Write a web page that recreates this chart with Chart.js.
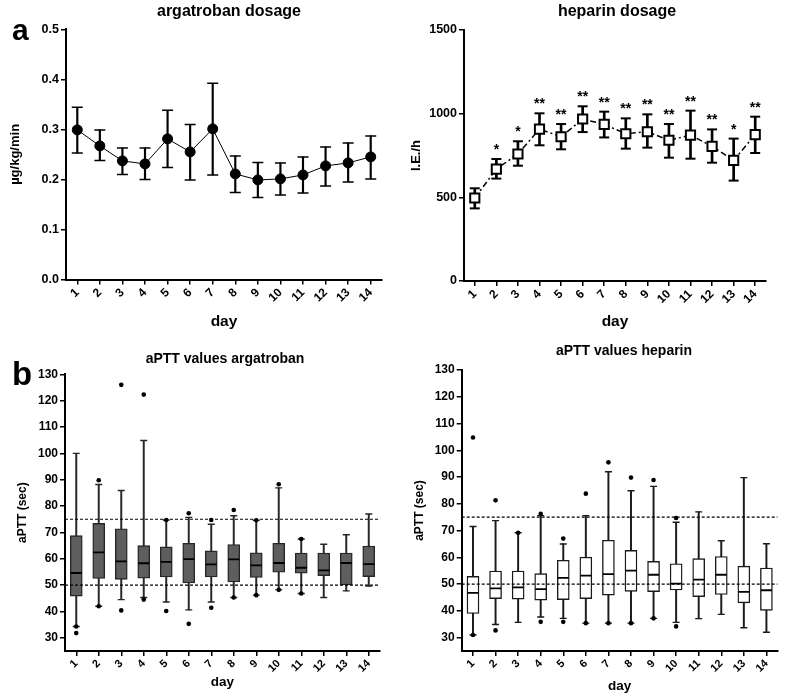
<!DOCTYPE html>
<html>
<head>
<meta charset="utf-8">
<title>argatroban / heparin</title>
<script src="https://cdn.jsdelivr.net/npm/chart.js@4.4.1/dist/chart.umd.min.js"></script>
<style>
  body { margin: 0; background: #fff; }
  #wrap { position: relative; width: 785px; height: 694px; overflow: hidden;
          font-family: 'Liberation Sans', Arial, sans-serif; color: #000; }
  canvas { position: absolute; }
  .title { position: absolute; width: 320px; text-align: center; font-weight: bold; white-space: nowrap; }
  .letter { position: absolute; font-weight: bold; line-height: 1; }
</style>
</head>
<body>
<div id="wrap">
  <canvas id="argDose" width="390" height="335" style="left:0;top:0"></canvas>
  <canvas id="hepDose" width="395" height="335" style="left:390px;top:0"></canvas>
  <canvas id="argAptt" width="390" height="356" style="left:0;top:338px"></canvas>
  <canvas id="hepAptt" width="395" height="356" style="left:390px;top:338px"></canvas>
  <div class="title" style="left:69px;top:3px;font-size:16px;line-height:16px">argatroban dosage</div>
  <div class="title" style="left:457px;top:3px;font-size:16px;line-height:16px">heparin dosage</div>
  <div class="title" style="left:65px;top:351px;font-size:14px;line-height:14px">aPTT values argatroban</div>
  <div class="title" style="left:464px;top:343px;font-size:14px;line-height:14px">aPTT values heparin</div>
  <div class="letter" style="left:12px;top:15px;font-size:30px">a</div>
  <div class="letter" style="left:12px;top:357px;font-size:33px">b</div>
</div>
<script>
// days on the x axis
const days = [1, 2, 3, 4, 5, 6, 7, 8, 9, 10, 11, 12, 13, 14];

// argatroban dosage (µg/kg/min): mean with error bar ends
const argMean  = [0.299, 0.267, 0.237, 0.231, 0.281, 0.255, 0.301, 0.211, 0.199, 0.201, 0.209, 0.227, 0.233, 0.245];
const argUpper = [0.344, 0.299, 0.263, 0.263, 0.338, 0.310, 0.392, 0.247, 0.234, 0.233, 0.245, 0.265, 0.273, 0.287];
const argLower = [0.253, 0.238, 0.210, 0.200, 0.224, 0.199, 0.209, 0.174, 0.164, 0.169, 0.173, 0.187, 0.195, 0.201];
const argDoseTicks = [0, 0.1, 0.2, 0.3, 0.4, 0.5];

// heparin dosage (I.E./h)
const hepMean  = [496, 669, 759, 908, 862, 968, 936, 880, 892, 841, 872, 805, 721, 875];
const hepUpper = [554, 729, 835, 1002, 938, 1044, 1012, 972, 996, 938, 1018, 906, 851, 982];
const hepLower = [434, 612, 689, 811, 787, 890, 858, 791, 797, 737, 731, 707, 600, 765];
const hepSig   = ['', '*', '*', '**', '**', '**', '**', '**', '**', '**', '**', '**', '*', '**'];
const hepDoseTicks = [0, 500, 1000, 1500];

// aPTT argatroban: whisker low, Q1, median, Q3, whisker high, outliers
const argWLo = [34.3, 42.0, 44.5, 45.3, 43.6, 40.6, 43.6, 45.3, 46.2, 48.2, 46.8, 45.3, 47.8, 49.6];
const argQ1  = [45.8, 52.5, 52.2, 52.6, 53.1, 50.8, 53.1, 51.2, 52.9, 54.9, 54.5, 53.6, 50.1, 53.2];
const argMed = [54.6, 62.4, 59.0, 58.3, 58.8, 59.9, 57.9, 59.8, 57.5, 58.4, 56.6, 55.6, 58.4, 58.0];
const argQ3  = [68.8, 73.4, 71.4, 65.0, 64.5, 65.9, 63.0, 65.4, 62.3, 65.9, 62.2, 62.2, 62.2, 64.8];
const argWHi = [100, 88.2, 85.9, 104.9, 74.7, 75.7, 73.1, 76.3, 74.6, 86.9, 67.5, 65.5, 69.1, 77.0];
const argOut = [[34.3, 31.8], [89.8, 42.0], [126.0, 40.4], [122.3, 44.5], [74.7, 40.2], [77.3, 35.3],
                [74.7, 41.4], [78.5, 45.3], [74.6, 46.2], [88.3, 48.2], [67.5, 46.8], [], [], []];

// aPTT heparin
const hepWLo = [31.0, 34.9, 35.7, 37.7, 37.2, 35.4, 35.4, 35.4, 37.2, 35.7, 37.1, 38.7, 33.7, 32.0];
const hepQ1  = [39.0, 44.6, 44.4, 44.0, 44.2, 44.6, 45.9, 47.3, 47.2, 47.8, 45.3, 46.1, 43.0, 40.2];
const hepMed = [46.7, 48.4, 48.8, 48.1, 52.3, 53.2, 53.7, 55.0, 53.5, 50.2, 51.7, 53.5, 47.1, 47.7];
const hepQ3  = [52.9, 54.9, 54.9, 53.9, 58.9, 60.1, 66.4, 62.6, 58.5, 57.6, 59.5, 60.3, 56.7, 56.0];
const hepWHi = [71.5, 73.7, 69.2, 75.6, 65.0, 75.6, 92.0, 84.9, 86.5, 73.1, 77.0, 66.2, 89.8, 65.1];
const hepOut = [[104.8, 31.0], [81.3, 32.7], [69.2], [76.3, 35.9], [67.0, 35.9], [83.8, 35.4],
                [95.5, 35.4], [89.8, 35.4], [88.9, 37.2], [74.7, 34.2], [], [], [], []];

const apttTicks = [30, 40, 50, 60, 70, 80, 90, 100, 110, 120, 130];
const apttLimits = [50, 75];

const FONT = "'Liberation Sans', Arial, sans-serif";

// shared x axis (days)
function xAxis(height, tickSize, titleSize) {
    return {
        type: 'linear', min: 0.5, max: 14.5, offset: false,
        afterBuildTicks: s => { s.ticks = days.map(d => ({ value: d })); },
        afterFit: s => { s.height = height; },
        ticks: {
            autoSkip: false, minRotation: 45, maxRotation: 45, padding: 1, color: '#000',
            font: { family: FONT, size: tickSize, weight: 'bold' },
            callback: v => String(v)
        },
        grid: { offset: false, drawOnChartArea: false, drawTicks: true, tickLength: 5, color: '#000', lineWidth: 1.5 },
        border: { display: true, color: '#000', width: 2 },
        title: {
            display: true, text: 'day', color: '#000', padding: 0,
            font: { family: FONT, size: titleSize, weight: 'bold' }
        }
    };
}

// shared y axis
function yAxis(width, min, max, tickValues, fmt, label, labelPad, tickSize, labelSize) {
    return {
        type: 'linear', min: min, max: max,
        afterBuildTicks: s => { s.ticks = tickValues.map(v => ({ value: v })); },
        afterFit: s => { s.width = width; },
        ticks: { padding: 2, color: '#000', font: { family: FONT, size: tickSize, weight: 'bold' }, callback: fmt },
        grid: { drawOnChartArea: false, drawTicks: true, tickLength: 5, color: '#000', lineWidth: 1.5 },
        border: { display: true, color: '#000', width: 2 },
        title: {
            display: true, text: label, color: '#000', padding: { top: labelPad, bottom: 0 },
            font: { family: FONT, size: labelSize, weight: 'bold' }
        }
    };
}

function baseOptions(padding, x, y) {
    return {
        responsive: false,
        animation: false,
        events: [],
        devicePixelRatio: 1,
        layout: { padding: padding },
        plugins: { legend: { display: false }, tooltip: { enabled: false } },
        scales: { x: x, y: y }
    };
}

function pts(values) {
    return days.map((d, i) => ({ x: d, y: values[i] }));
}

// error bars: thin floating bar + two caps
function errorBarSets(lower, upper, barWidth, capRadius, order) {
    return [
        {
            type: 'scatter', data: pts(upper).concat(pts(lower)), pointStyle: 'line',
            pointRadius: capRadius, pointBorderColor: '#000', pointBorderWidth: barWidth, order: order
        },
        {
            type: 'bar', data: days.map((d, i) => ({ x: d, y: [lower[i], upper[i]] })),
            backgroundColor: '#000', borderWidth: 0, barThickness: barWidth, grouped: false, order: order + 1
        }
    ];
}

// box plot built from bars and scatter points
function boxSets(wlo, q1, med, q3, whi, outliers, fill, edge) {
    const outPts = [];
    outliers.forEach((list, i) => list.forEach(v => outPts.push({ x: days[i], y: v })));
    const limitSets = apttLimits.map(v => ({
        type: 'line', data: [{ x: 0.5, y: v }, { x: 14.5, y: v }], borderColor: '#000',
        borderWidth: 1.2, borderDash: [3, 2], pointRadius: 0, order: 0
    }));
    return limitSets.concat([
        { type: 'scatter', data: outPts, pointRadius: 2.3, pointBackgroundColor: '#000', pointBorderColor: '#000', pointBorderWidth: 0, order: 1 },
        { type: 'scatter', data: pts(med), pointStyle: 'line', pointRadius: 5.5, pointBorderColor: '#000', pointBorderWidth: 1.8, order: 2 },
        {
            type: 'bar', data: days.map((d, i) => ({ x: d, y: [q1[i], q3[i]] })), backgroundColor: fill,
            borderColor: edge, borderWidth: 1.4, borderSkipped: false, barThickness: 12, grouped: false, order: 3
        },
        { type: 'scatter', data: pts(whi).concat(pts(wlo)), pointStyle: 'line', pointRadius: 3.5, pointBorderColor: edge, pointBorderWidth: 1.4, order: 4 },
        {
            type: 'bar', data: days.map((d, i) => ({ x: d, y: [wlo[i], whi[i]] })), backgroundColor: edge,
            borderWidth: 0, barThickness: 1.3, grouped: false, order: 5
        }
    ]);
}

// significance stars above heparin error bars
const starPlugin = {
    id: 'stars',
    afterDatasetsDraw(chart) {
        const { ctx, scales: { x, y } } = chart;
        ctx.save();
        ctx.font = 'bold 14px ' + FONT;
        ctx.textAlign = 'center';
        ctx.textBaseline = 'alphabetic';
        ctx.fillStyle = '#000';
        hepSig.forEach((s, i) => {
            if (!s) return;
            ctx.fillText(s, x.getPixelForValue(days[i]), y.getPixelForValue(hepUpper[i]) - 5);
        });
        ctx.restore();
    }
};

// a: argatroban dosage
new Chart(document.getElementById('argDose'), {
    type: 'bar',
    data: {
        datasets: [
            {
                type: 'line', data: pts(argMean), borderColor: '#000', borderWidth: 1, tension: 0,
                pointRadius: 5, pointBackgroundColor: '#000', pointBorderColor: '#000', order: 0
            }
        ].concat(errorBarSets(argLower, argUpper, 1.5, 5.5, 1))
    },
    options: baseOptions({ left: 0, right: 8, top: 29.3, bottom: 3.5 },
        xAxis(52, 12, 15.5),
        yAxis(66, 0, 0.5, argDoseTicks, v => v.toFixed(1), 'µg/kg/min', 7.2, 12.5, 13))
});

// a: heparin dosage
new Chart(document.getElementById('hepDose'), {
    type: 'bar',
    data: {
        datasets: [
            {
                type: 'line', data: pts(hepMean), borderColor: '#000', borderWidth: 1.5, borderDash: [6, 3, 2, 3],
                tension: 0, pointStyle: 'rect', pointRadius: 6.5, pointBackgroundColor: '#fff',
                pointBorderColor: '#000', pointBorderWidth: 2, order: 0
            }
        ].concat(errorBarSets(hepLower, hepUpper, 2, 5, 1))
    },
    options: baseOptions({ left: 0, right: 19, top: 30, bottom: 4.4 },
        xAxis(49.6, 12, 15.5),
        yAxis(74, 0, 1500, hepDoseTicks, v => String(v), 'I.E./h', 18.9, 12.5, 13)),
    plugins: [starPlugin]
});

// b: aPTT argatroban
new Chart(document.getElementById('argAptt'), {
    type: 'bar',
    data: { datasets: boxSets(argWLo, argQ1, argMed, argQ3, argWHi, argOut, '#5e5e5e', '#262626') },
    options: baseOptions({ left: 0, right: 10, top: 36.3, bottom: 3.4 },
        xAxis(39.6, 11, 13.5),
        yAxis(65, 25, 130, apttTicks, v => String(v), 'aPTT (sec)', 15.8, 12, 12))
});

// b: aPTT heparin
new Chart(document.getElementById('hepAptt'), {
    type: 'bar',
    data: { datasets: boxSets(hepWLo, hepQ1, hepMed, hepQ3, hepWHi, hepOut, '#ffffff', '#1a1a1a') },
    options: baseOptions({ left: 0, right: 2, top: 32, bottom: 0.1 },
        xAxis(42.9, 11, 13.5),
        yAxis(71.7, 25, 130, apttTicks, v => String(v), 'aPTT (sec)', 22.8, 12, 12))
});
</script>
</body>
</html>
